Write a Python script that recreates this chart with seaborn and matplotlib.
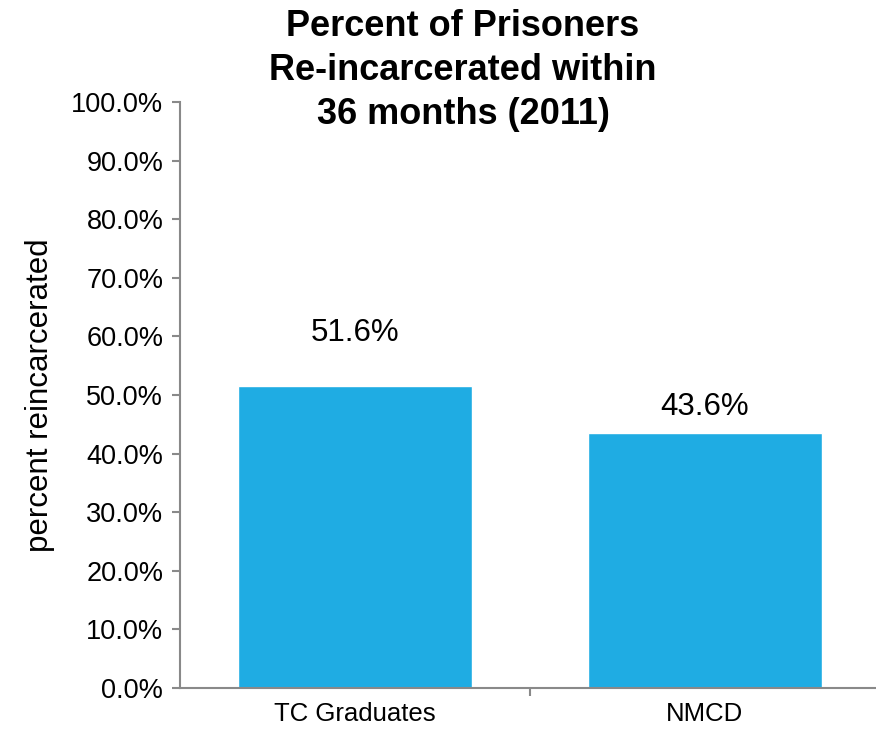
import matplotlib
matplotlib.use("Agg")
import matplotlib.pyplot as plt
import seaborn as sns
import pandas as pd
from matplotlib.ticker import FuncFormatter, FixedLocator

categories = ["TC Graduates", "NMCD"]
values = [51.6, 43.6]
value_labels = ["51.6%", "43.6%"]
title = "Percent of Prisoners\nRe-incarcerated within\n36 months (2011)"
ylabel = "percent reincarcerated"

sns.set_style("white")
plt.rcParams["font.family"] = ["Liberation Sans", "DejaVu Sans"]
plt.rcParams["text.color"] = "black"
plt.rcParams["axes.labelcolor"] = "black"

df = pd.DataFrame({"cat": categories, "val": values})

fig = plt.figure(figsize=(8.76, 7.31), dpi=100)
ax = fig.add_axes([180/876, (731-688)/731, 700/876, (688-102)/731])
sns.barplot(data=df, x="cat", y="val", color="#1FACE3", width=0.667, ax=ax, saturation=1)

ax.set_ylim(0, 100)
ax.set_xlim(-0.5, 1.5)
ax.yaxis.set_major_locator(FixedLocator([i*10 for i in range(11)]))
ax.yaxis.set_major_formatter(FuncFormatter(lambda v, p: f"{v:.1f}%"))
for s in ["top", "right"]:
    ax.spines[s].set_visible(False)
for s in ["left", "bottom"]:
    ax.spines[s].set_color("#898989")
    ax.spines[s].set_linewidth(1.5)
ax.tick_params(axis="y", length=6, width=1.5, color="#898989", labelsize=19.5, pad=6, left=True, labelcolor="black")
ax.tick_params(axis="x", which="major", length=0, labelsize=18.5, pad=10, labelcolor="black")
ax.set_xticks([0.5], minor=True)
ax.tick_params(axis="x", which="minor", length=6, width=1.5, color="#898989", bottom=True)
ax.set_xlabel("")
ax.set_ylabel(ylabel, fontsize=22.5, labelpad=12, color="black")

offsets = [53, 26]
for i, (v, lab) in enumerate(zip(values, value_labels)):
    ax.annotate(lab, (i, v), xytext=(0, offsets[i]*0.72), textcoords="offset points",
                ha="center", va="center", fontsize=22.5, color="black")

fig.text(463/876, 1 - 9/731, title, ha="center", va="top", fontsize=26,
         fontweight="bold", linespacing=1.33, color="black")

fig.savefig("out.png", dpi=100)
